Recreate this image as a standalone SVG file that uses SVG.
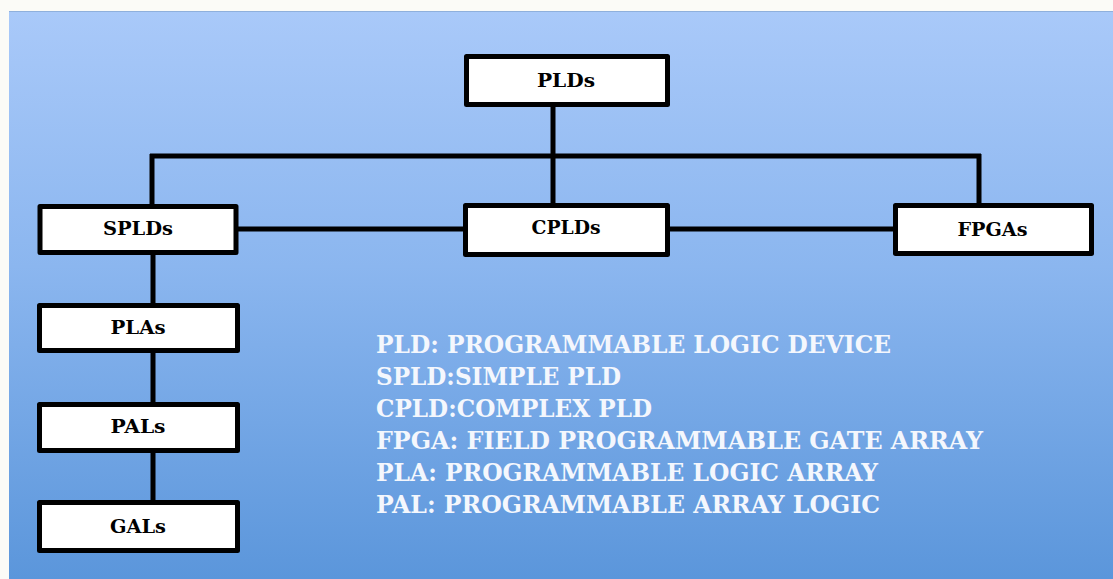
<svg xmlns="http://www.w3.org/2000/svg" width="1113" height="579" viewBox="0 0 1113 579">
<defs>
<linearGradient id="bg" x1="0" y1="0" x2="0" y2="1">
<stop offset="0" stop-color="#a9c9f9"/>
<stop offset="0.45" stop-color="#8bb6ef"/>
<stop offset="1" stop-color="#5b96db"/>
</linearGradient>
<style>
.box{fill:#ffffff;stroke:#000000;stroke-width:5;stroke-linejoin:round}
.lbl{font-family:"DejaVu Serif","Liberation Serif",serif;font-weight:bold;font-size:18px;fill:#000000;text-anchor:middle}
.conn{stroke:#000000;stroke-width:5;fill:none}
.leg{font-family:"DejaVu Serif","Liberation Serif",serif;font-weight:bold;font-size:25px;fill:#f4f7fd}
</style>
</defs>
<rect x="0" y="0" width="1113" height="579" fill="#fbfbf7"/>
<rect x="9" y="11" width="1104" height="568" fill="url(#bg)"/>
<line x1="9" y1="11.5" x2="1113" y2="11.5" stroke="#8fb0dc" stroke-width="1"/>
<g id="connectors">
<line class="conn" x1="553" y1="105" x2="553" y2="156"/>
<line class="conn" x1="150" y1="156" x2="981" y2="156"/>
<line class="conn" x1="152" y1="154" x2="152" y2="206"/>
<line class="conn" x1="553" y1="154" x2="553" y2="205"/>
<line class="conn" x1="979" y1="154" x2="979" y2="205"/>
<line class="conn" x1="236" y1="229" x2="465" y2="229"/>
<line class="conn" x1="668" y1="229" x2="895" y2="229"/>
<line class="conn" x1="153" y1="253" x2="153" y2="502"/>
</g>
<g id="PLDs">
<rect class="box" x="466.5" y="56.5" width="201" height="48"/>
<text class="lbl" x="566" y="87" textLength="58" lengthAdjust="spacingAndGlyphs">PLDs</text>
</g>
<g id="SPLDs">
<rect class="box" x="40" y="206.5" width="196" height="46"/>
<text class="lbl" x="138" y="235" textLength="70" lengthAdjust="spacingAndGlyphs">SPLDs</text>
</g>
<g id="CPLDs">
<rect class="box" x="465.5" y="205.5" width="202" height="49"/>
<text class="lbl" x="566" y="234" textLength="69" lengthAdjust="spacingAndGlyphs">CPLDs</text>
</g>
<g id="FPGAs">
<rect class="box" x="895.5" y="205.5" width="196" height="48"/>
<text class="lbl" x="992.5" y="236" textLength="70" lengthAdjust="spacingAndGlyphs">FPGAs</text>
</g>
<g id="PLAs">
<rect class="box" x="39.5" y="305.5" width="198" height="45"/>
<text class="lbl" x="138" y="334" textLength="55" lengthAdjust="spacingAndGlyphs">PLAs</text>
</g>
<g id="PALs">
<rect class="box" x="39.5" y="404.5" width="198" height="46"/>
<text class="lbl" x="138" y="433" textLength="55" lengthAdjust="spacingAndGlyphs">PALs</text>
</g>
<g id="GALs">
<rect class="box" x="39.5" y="502.5" width="198" height="48"/>
<text class="lbl" x="138" y="533" textLength="56" lengthAdjust="spacingAndGlyphs">GALs</text>
</g>
<g id="legend">
<text class="leg" x="376" y="353" textLength="515" lengthAdjust="spacingAndGlyphs">PLD: PROGRAMMABLE LOGIC DEVICE</text>
<text class="leg" x="376" y="385" textLength="245" lengthAdjust="spacingAndGlyphs">SPLD:SIMPLE PLD</text>
<text class="leg" x="376" y="417" textLength="276" lengthAdjust="spacingAndGlyphs">CPLD:COMPLEX PLD</text>
<text class="leg" x="376" y="449" textLength="607" lengthAdjust="spacingAndGlyphs">FPGA: FIELD PROGRAMMABLE GATE ARRAY</text>
<text class="leg" x="376" y="481" textLength="502" lengthAdjust="spacingAndGlyphs">PLA: PROGRAMMABLE LOGIC ARRAY</text>
<text class="leg" x="376" y="513" textLength="504" lengthAdjust="spacingAndGlyphs">PAL: PROGRAMMABLE ARRAY LOGIC</text>
</g>
</svg>
